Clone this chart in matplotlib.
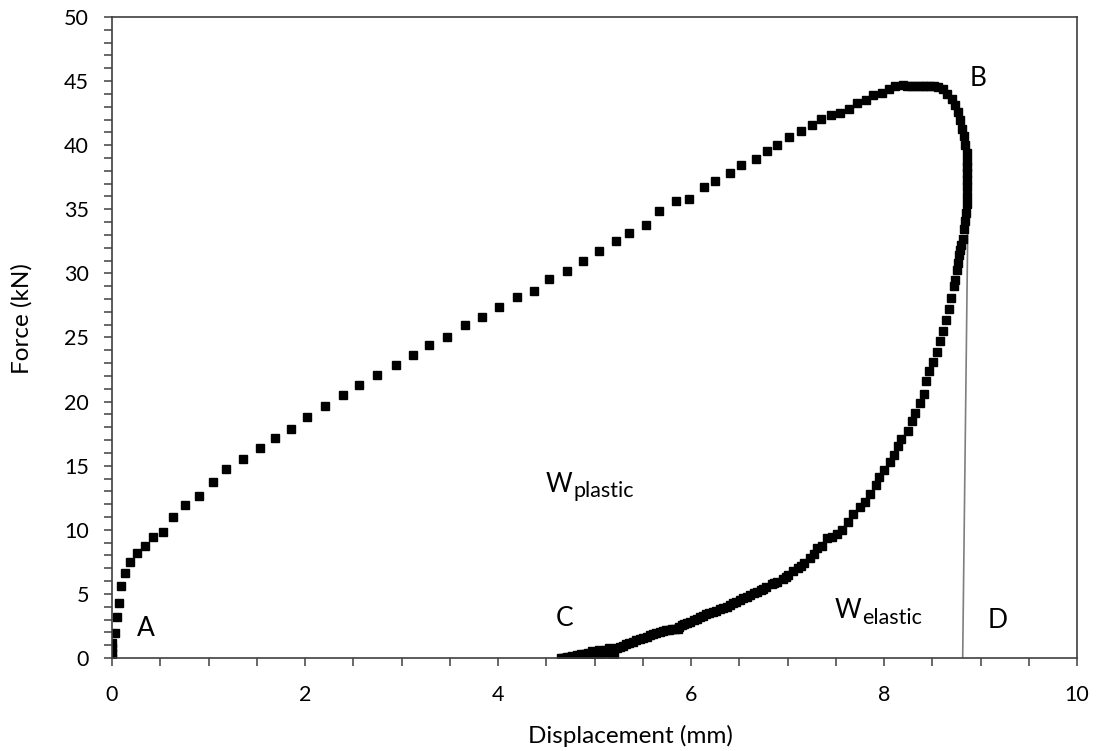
import matplotlib
matplotlib.use("Agg")
import matplotlib.pyplot as plt
from matplotlib.ticker import MultipleLocator

plt.rcParams['font.family'] = ['Lato', 'DejaVu Sans']
plt.rcParams['xtick.major.pad'] = 14
plt.rcParams['xtick.minor.pad'] = 14
plt.rcParams['ytick.major.pad'] = 11
plt.rcParams['ytick.minor.pad'] = 11

# Loading A -> B
load_x = [0, 0, 0, 0, 0.03, 0.05, 0.07, 0.09, 0.13, 0.19, 0.26, 0.34, 0.42, 0.53, 0.63,
          0.76, 0.90, 1.05, 1.18, 1.36, 1.53, 1.69, 1.85, 2.02, 2.21, 2.39, 2.56, 2.75,
          2.94, 3.12, 3.29, 3.47, 3.66, 3.83, 4.01, 4.20, 4.37, 4.53, 4.72, 4.88, 5.05,
          5.22, 5.36, 5.53, 5.67, 5.84, 5.98, 6.13, 6.25, 6.40, 6.52, 6.67, 6.79, 6.89,
          7.02, 7.14, 7.25, 7.35, 7.45, 7.54, 7.64, 7.72, 7.81, 7.89, 7.98, 8.05, 8.11,
          8.20, 8.24, 8.28, 8.32, 8.36, 8.40, 8.44, 8.48, 8.52, 8.56, 8.61, 8.65, 8.70,
          8.74, 8.77, 8.79, 8.81, 8.83, 8.84]
load_y = [0, 0.4, 0.8, 1.2, 1.93, 3.17, 4.27, 5.64, 6.6, 7.5, 8.17, 8.76, 9.41, 9.85, 10.97,
          11.91, 12.66, 13.75, 14.72, 15.5, 16.4, 17.2, 17.84, 18.78, 19.68, 20.49, 21.27, 22.05,
          22.83, 23.61, 24.39, 25.01, 25.95, 26.57, 27.35, 28.14, 28.6, 29.54, 30.16, 30.94, 31.72,
          32.53, 33.15, 33.77, 34.87, 35.65, 35.8, 36.74, 37.2, 37.83, 38.45, 38.92, 39.55, 40.0,
          40.64, 41.1, 41.58, 42.04, 42.35, 42.5, 42.8, 43.27, 43.5, 43.9, 44.1, 44.4, 44.6,
          44.7, 44.6, 44.6, 44.6, 44.6, 44.6, 44.6, 44.6, 44.6, 44.55, 44.4, 44.0, 43.6,
          43.1, 42.6, 42.0, 41.3, 40.7, 40.0]

# Unloading B -> C
unload_x = [8.86, 8.86, 8.86, 8.86, 8.86, 8.86, 8.86, 8.855, 8.85, 8.84, 8.83, 8.82, 8.80,
            8.79, 8.78, 8.77, 8.76, 8.74, 8.72, 8.69, 8.67, 8.64, 8.61, 8.58, 8.55, 8.51,
            8.47, 8.43, 8.41, 8.37, 8.32, 8.29, 8.25, 8.18, 8.14, 8.10, 8.06, 8.00, 7.95,
            7.92, 7.85, 7.80, 7.75, 7.68, 7.63, 7.56, 7.51, 7.46, 7.41, 7.36, 7.31, 7.27,
            7.23, 7.17, 7.14, 7.11, 7.06, 7.01, 6.98, 6.95, 6.89, 6.86, 6.84, 6.78, 6.75,
            6.72, 6.68, 6.65, 6.61, 6.58, 6.54, 6.51, 6.47, 6.44, 6.40, 6.37, 6.33, 6.30,
            6.26, 6.23, 6.19, 6.16, 6.12, 6.09, 6.06, 6.03, 5.99, 5.96, 5.93, 5.91, 5.88,
            5.86, 5.83, 5.80, 5.77, 5.74, 5.71, 5.68, 5.64, 5.61, 5.57, 5.54, 5.50, 5.47,
            5.43, 5.40, 5.36, 5.33, 5.29, 5.26, 5.23, 5.20, 5.16, 5.13, 5.20, 5.17, 5.15,
            5.12, 5.10, 5.07, 5.05, 5.02, 5.00, 4.99, 4.97, 4.95, 4.93, 4.92, 4.90, 4.88,
            4.86, 4.85, 4.82, 4.80, 4.77, 4.75, 4.72, 4.69, 4.67, 4.65]
unload_y = [39.4, 38.8, 38.3, 37.8, 37.3, 36.7, 36.0, 35.4, 34.7, 34.1, 33.5, 32.7, 32.2,
            31.8, 31.4, 30.8, 30.3, 29.5, 29.0, 28.1, 27.2, 26.4, 25.5, 24.7, 23.9, 23.1,
            22.4, 21.6, 20.6, 19.9, 19.1, 18.5, 17.7, 17.06, 16.5, 15.8, 15.3, 14.7, 14.1,
            13.5, 12.8, 12.2, 11.8, 11.2, 10.6, 10.0, 9.7, 9.41, 9.4, 8.7, 8.55, 8.15,
            7.77, 7.4, 7.2, 7.0, 6.75, 6.47, 6.35, 6.2, 5.95, 5.85, 5.75, 5.56, 5.42,
            5.3, 5.17, 5.04, 4.9, 4.78, 4.65, 4.52, 4.39, 4.26, 4.12, 4.0, 3.9, 3.8,
            3.7, 3.6, 3.5, 3.4, 3.3, 3.22, 3.08, 2.95, 2.82, 2.7, 2.65, 2.6, 2.45,
            2.3, 2.27, 2.25, 2.22, 2.2, 2.13, 2.06, 1.96, 1.86, 1.76, 1.66, 1.56, 1.47,
            1.37, 1.27, 1.17, 1.07, 0.97, 0.88, 0.8, 0.7, 0.6, 0.49, 0.35, 0.2, 0.75,
            0.6, 0.4, 0.25, 0.65, 0.45, 0.35, 0.05, 0.55, 0.25, 0.4, 0.1, 0.3, 0.2,
            0.35, 0.16, 0.25, 0.1, 0.15, 0.05, 0.08, 0.0, 0.02, 0.0]

# elastic unloading line B -> D
line_x = [8.87, 8.815]
line_y = [35.0, 0.0]

fig = plt.figure(figsize=(10.97, 7.51), dpi=100)
ax = fig.add_axes([0.1021, 0.1238, 0.8797, 0.8536])

ax.plot(line_x, line_y, color='#7f7f7f', lw=1.2, zorder=1)
ax.plot(load_x, load_y, 's', color='black', ms=5.5, zorder=2)
ax.plot(unload_x, unload_y, 's', color='black', ms=5.5, zorder=2)

ax.set_xlim(0, 10)
ax.set_ylim(0, 50)
ax.xaxis.set_major_locator(MultipleLocator(2))
ax.xaxis.set_minor_locator(MultipleLocator(0.5))
ax.yaxis.set_major_locator(MultipleLocator(5))
ax.yaxis.set_minor_locator(MultipleLocator(1))
ax.tick_params(axis='both', which='both', direction='out', length=5.5, width=1.1,
               color='#404040', labelsize=15.5)
for s in ax.spines.values():
    s.set_color('#404040')
    s.set_linewidth(1.2)

ax.set_xlabel('Displacement (mm)', fontsize=17.5)
ax.set_ylabel('Force (kN)', fontsize=17.5)
ax.xaxis.set_label_coords(0.537, -0.105)
ax.yaxis.set_label_coords(-0.082, 0.529)

lab = dict(fontsize=19, ha='center', va='center')
ax.text(0.35, 2.3, 'A', **lab)
ax.text(8.97, 45.2, 'B', **lab)
ax.text(4.69, 3.1, 'C', **lab)
ax.text(9.18, 2.9, 'D', **lab)

# W with subscript, drawn as two texts so the subscript keeps its size
for wx, wy, sub in [(4.49, 12.97, 'plastic'), (7.49, 3.1, 'elastic')]:
    ax.text(wx, wy, 'W', fontsize=18.5, ha='left', va='baseline')
    ax.annotate(sub, xy=(wx, wy), xytext=(20, -4), textcoords='offset points',
                fontsize=15.5, ha='left', va='baseline')

fig.savefig('out.png', dpi=100)
